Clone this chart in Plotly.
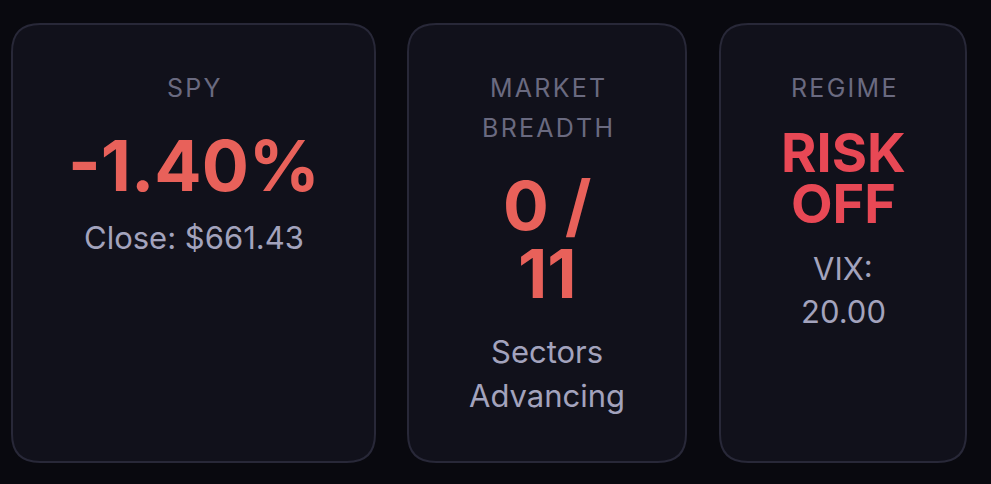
import plotly.graph_objects as go

W, H = 991, 484
titles = [["SPY"], ["MARKET", "BREADTH"], ["REGIME"]]
values = [["-1.40%"], ["0 /", "11"], ["RISK", "OFF"]]
subs = [["Close: $661.43"], ["Sectors", "Advancing"], ["VIX:", "20.00"]]
value_colors = ["#e8615a", "#e8615a", "#e84855"]

cards = [(12, 375), (408, 686), (720, 966)]
top, bot = 24, 462
title_y = [[88], [88, 128], [88]]
value_y = [[165], [205, 273], [152, 203]]
value_size = [70, 68, 54]
sub_y = [[237], [351, 395], [268, 311]]

def spaced(s):
    return "\u200a".join(s)

def rrect(x0, y0, x1, y1, r):
    return (f"M{x0+r},{y0} L{x1-r},{y0} Q{x1},{y0} {x1},{y0+r} L{x1},{y1-r} Q{x1},{y1} {x1-r},{y1} "
            f"L{x0+r},{y1} Q{x0},{y1} {x0},{y1-r} L{x0},{y0+r} Q{x0},{y0} {x0+r},{y0} Z")

fig = go.Figure()
shapes, ann = [], []
for i, (x0, x1) in enumerate(cards):
    shapes.append(dict(type="path", path=rrect(x0, top, x1, bot, 28), xref="x", yref="y",
                       fillcolor="#11111b", line=dict(color="#282838", width=2)))
    cx = (x0 + x1) / 2
    for t, y in zip(titles[i], title_y[i]):
        ann.append(dict(x=cx, y=y, text=spaced(t), font=dict(size=25, color="#6a6a80", family="Inter")))
    for t, y in zip(values[i], value_y[i]):
        ann.append(dict(x=cx, y=y, text=f"<b>{t}</b>", font=dict(size=value_size[i], color=value_colors[i], family="Inter")))
    for t, y in zip(subs[i], sub_y[i]):
        ann.append(dict(x=cx, y=y, text=t, font=dict(size=31, color="#a3a3bd", family="Inter")))
for a in ann:
    a.update(xref="x", yref="y", showarrow=False, xanchor="center", yanchor="middle")

fig.update_layout(width=W, height=H, margin=dict(l=0, r=0, t=0, b=0),
                  paper_bgcolor="#09090f", plot_bgcolor="#09090f",
                  shapes=shapes, annotations=ann, showlegend=False,
                  xaxis=dict(range=[0, W], visible=False, fixedrange=True),
                  yaxis=dict(range=[H, 0], visible=False, fixedrange=True))
fig.write_html("out.html", config={"displayModeBar": False},
               post_script="document.body.style.margin='0';document.body.style.background='#09090f';document.body.style.overflow='hidden';")
